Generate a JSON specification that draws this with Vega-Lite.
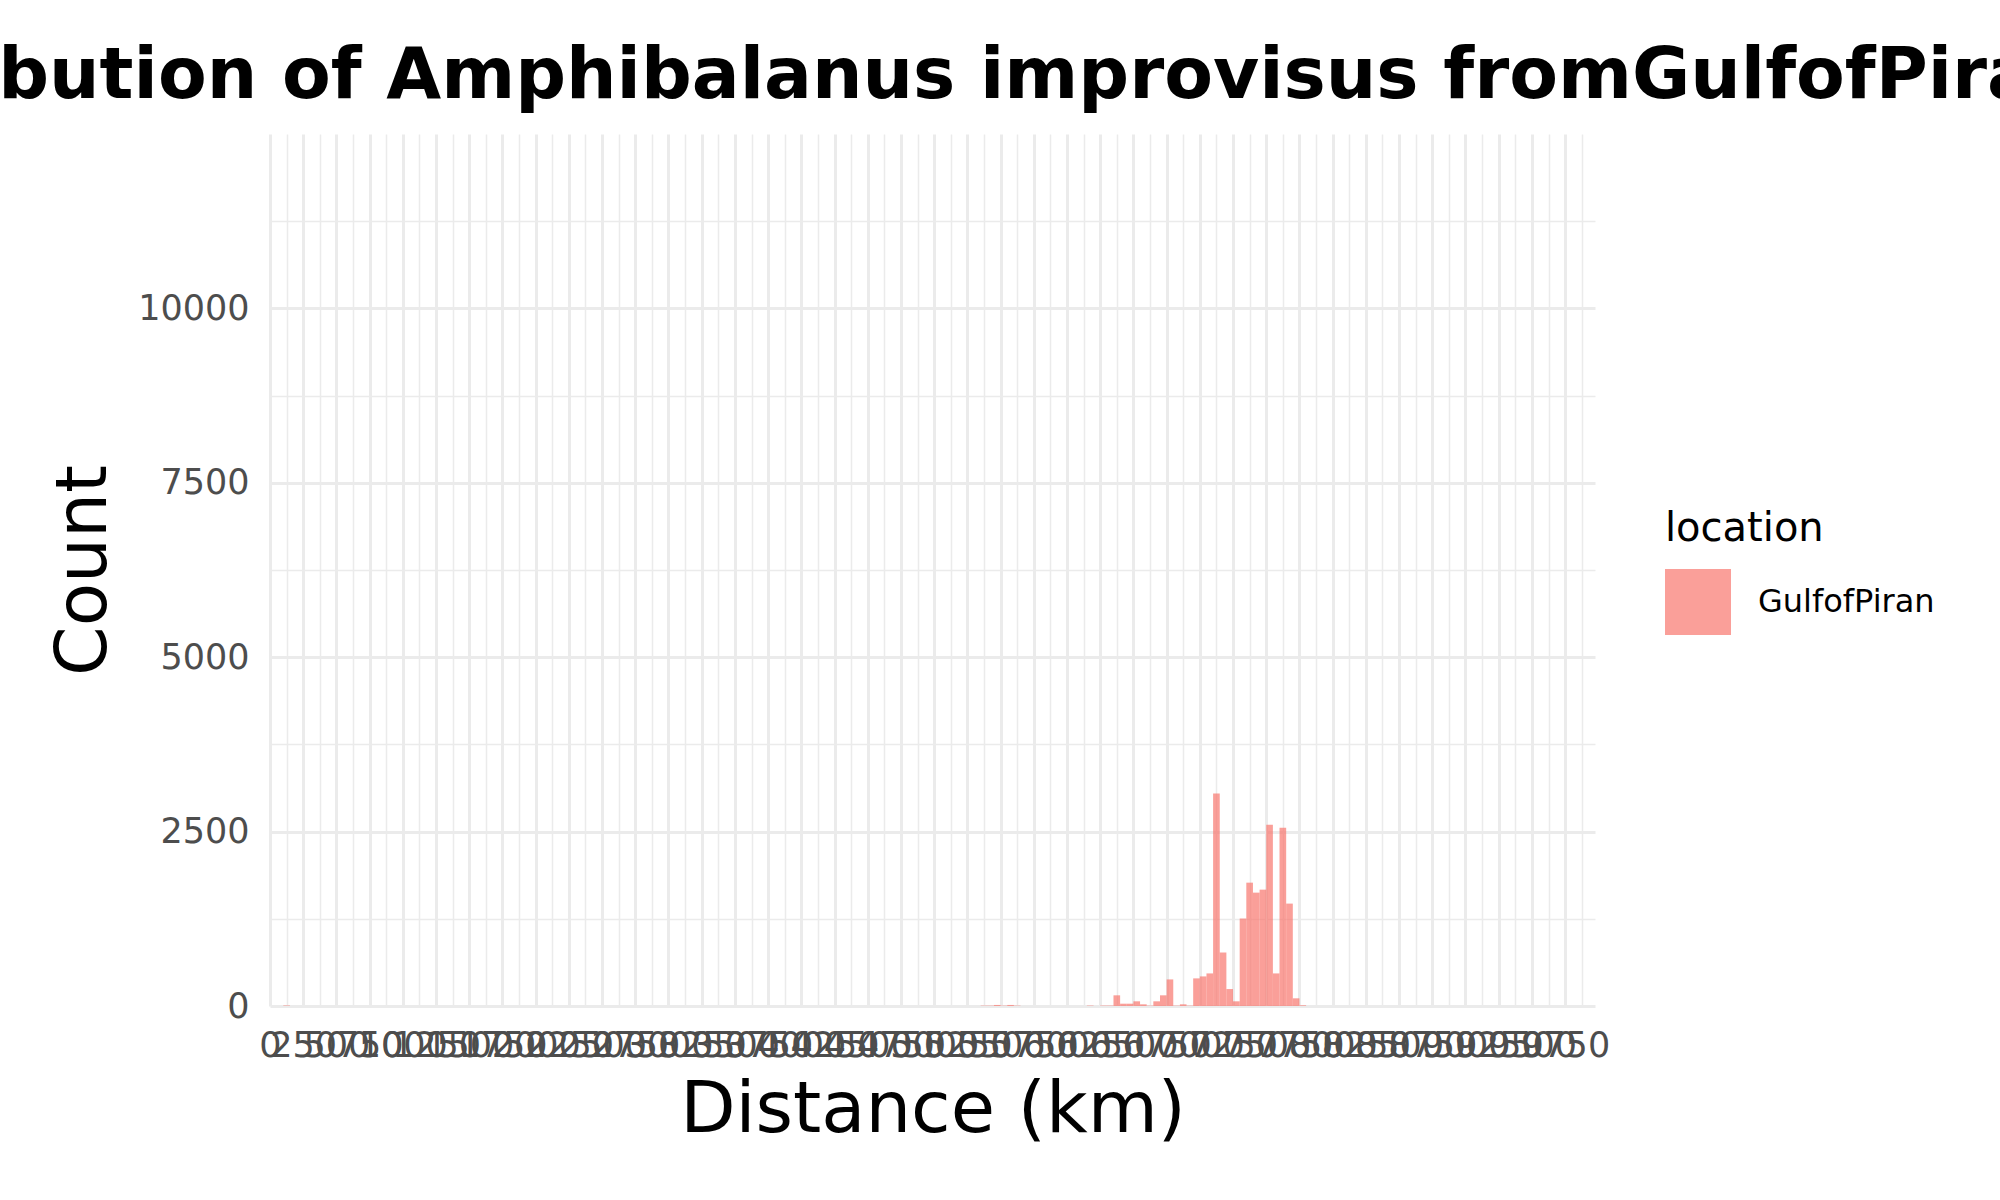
{
  "$schema": "https://vega.github.io/schema/vega-lite/v6.json",
  "autosize": {"type": "none"},
  "padding": {"left": 270, "top": 134, "right": 405, "bottom": 194},
  "width": 1325,
  "height": 872,
  "background": "white",
  "title": {
    "text": "Distribution of Amphibalanus improvisus fromGulfofPiran",
    "anchor": "middle",
    "frame": "group",
    "font": "DejaVu Sans",
    "fontSize": 71,
    "fontWeight": "bold",
    "color": "black",
    "baseline": "alphabetic",
    "offset": -35
  },
  "config": {
    "view": {"stroke": null},
    "font": "DejaVu Sans"
  },
  "data": {
    "values": [
      {"start": 100, "end": 150, "count": 6, "location": "GulfofPiran"},
      {"start": 5350, "end": 5400, "count": 5, "location": "GulfofPiran"},
      {"start": 5400, "end": 5450, "count": 5, "location": "GulfofPiran"},
      {"start": 5450, "end": 5500, "count": 15, "location": "GulfofPiran"},
      {"start": 5500, "end": 5550, "count": 5, "location": "GulfofPiran"},
      {"start": 5550, "end": 5600, "count": 15, "location": "GulfofPiran"},
      {"start": 5600, "end": 5650, "count": 5, "location": "GulfofPiran"},
      {"start": 6150, "end": 6200, "count": 6, "location": "GulfofPiran"},
      {"start": 6250, "end": 6300, "count": 6, "location": "GulfofPiran"},
      {"start": 6300, "end": 6350, "count": 6, "location": "GulfofPiran"},
      {"start": 6350, "end": 6400, "count": 153, "location": "GulfofPiran"},
      {"start": 6400, "end": 6450, "count": 33, "location": "GulfofPiran"},
      {"start": 6450, "end": 6500, "count": 33, "location": "GulfofPiran"},
      {"start": 6500, "end": 6550, "count": 67, "location": "GulfofPiran"},
      {"start": 6550, "end": 6600, "count": 24, "location": "GulfofPiran"},
      {"start": 6600, "end": 6650, "count": 5, "location": "GulfofPiran"},
      {"start": 6650, "end": 6700, "count": 67, "location": "GulfofPiran"},
      {"start": 6700, "end": 6750, "count": 153, "location": "GulfofPiran"},
      {"start": 6750, "end": 6800, "count": 381, "location": "GulfofPiran"},
      {"start": 6800, "end": 6850, "count": 5, "location": "GulfofPiran"},
      {"start": 6850, "end": 6900, "count": 24, "location": "GulfofPiran"},
      {"start": 6900, "end": 6950, "count": 5, "location": "GulfofPiran"},
      {"start": 6950, "end": 7000, "count": 396, "location": "GulfofPiran"},
      {"start": 7000, "end": 7050, "count": 424, "location": "GulfofPiran"},
      {"start": 7050, "end": 7100, "count": 467, "location": "GulfofPiran"},
      {"start": 7100, "end": 7150, "count": 3046, "location": "GulfofPiran"},
      {"start": 7150, "end": 7200, "count": 767, "location": "GulfofPiran"},
      {"start": 7200, "end": 7250, "count": 243, "location": "GulfofPiran"},
      {"start": 7250, "end": 7300, "count": 67, "location": "GulfofPiran"},
      {"start": 7300, "end": 7350, "count": 1254, "location": "GulfofPiran"},
      {"start": 7350, "end": 7400, "count": 1768, "location": "GulfofPiran"},
      {"start": 7400, "end": 7450, "count": 1625, "location": "GulfofPiran"},
      {"start": 7450, "end": 7500, "count": 1668, "location": "GulfofPiran"},
      {"start": 7500, "end": 7550, "count": 2598, "location": "GulfofPiran"},
      {"start": 7550, "end": 7600, "count": 467, "location": "GulfofPiran"},
      {"start": 7600, "end": 7650, "count": 2555, "location": "GulfofPiran"},
      {"start": 7650, "end": 7700, "count": 1468, "location": "GulfofPiran"},
      {"start": 7700, "end": 7750, "count": 110, "location": "GulfofPiran"},
      {"start": 7750, "end": 7800, "count": 10, "location": "GulfofPiran"}
    ]
  },
  "mark": {"type": "rect", "opacity": 0.7, "strokeWidth": 0},
  "encoding": {
    "x": {
      "field": "start",
      "type": "quantitative",
      "scale": {"domain": [0, 9975], "nice": false, "zero": false},
      "axis": {
        "title": "Distance (km)",
        "titleFontSize": 72,
        "titleFontWeight": "normal",
        "titleColor": "black",
        "titlePadding": 11,
        "values": [0,125,250,375,500,625,750,875,1000,1125,1250,1375,1500,1625,1750,1875,2000,2125,2250,2375,2500,2625,2750,2875,3000,3125,3250,3375,3500,3625,3750,3875,4000,4125,4250,4375,4500,4625,4750,4875,5000,5125,5250,5375,5500,5625,5750,5875,6000,6125,6250,6375,6500,6625,6750,6875,7000,7125,7250,7375,7500,7625,7750,7875,8000,8125,8250,8375,8500,8625,8750,8875,9000,9125,9250,9375,9500,9625,9750,9875],
        "format": "d",
        "labelExpr": "datum.value % 250 === 0 ? datum.label : ''",
        "labelFontSize": 35,
        "labelColor": "#4D4D4D",
        "labelPadding": 22,
        "labelOverlap": false,
        "labelFlush": false,
        "labelBound": false,
        "ticks": false,
        "tickSize": 0,
        "domain": false,
        "grid": true,
        "gridColor": "#EBEBEB",
        "gridWidth": {"condition": {"test": "datum.value % 250 === 0", "value": 3}, "value": 1.5}
      }
    },
    "x2": {"field": "end"},
    "y": {
      "field": "count",
      "type": "quantitative",
      "scale": {"domain": [0, 12500], "nice": false},
      "axis": {
        "title": "Count",
        "titleFontSize": 71,
        "titleFontWeight": "normal",
        "titleColor": "black",
        "titlePadding": 17,
        "values": [0,1250,2500,3750,5000,6250,7500,8750,10000,11250],
        "format": "d",
        "labelExpr": "datum.value % 2500 === 0 ? datum.label : ''",
        "labelFontSize": 35,
        "labelColor": "#4D4D4D",
        "labelPadding": 21,
        "labelOverlap": false,
        "ticks": false,
        "tickSize": 0,
        "domain": false,
        "grid": true,
        "gridColor": "#EBEBEB",
        "gridWidth": {"condition": {"test": "datum.value % 2500 === 0", "value": 3}, "value": 1.5}
      }
    },
    "y2": {"datum": 0},
    "color": {
      "field": "location",
      "type": "nominal",
      "scale": {"range": ["#F8766D"]},
      "legend": {
        "orient": "none",
        "legendX": 1395,
        "legendY": 375,
        "title": "location",
        "titleFontSize": 40,
        "titleFontWeight": "normal",
        "titleColor": "black",
        "titlePadding": 20,
        "labelFontSize": 32,
        "labelColor": "black",
        "labelOffset": 27,
        "labelLimit": 0,
        "symbolType": "square",
        "symbolSize": 4356,
        "symbolOpacity": 0.7,
        "symbolStrokeWidth": 0,
        "padding": 0
      }
    }
  }
}
